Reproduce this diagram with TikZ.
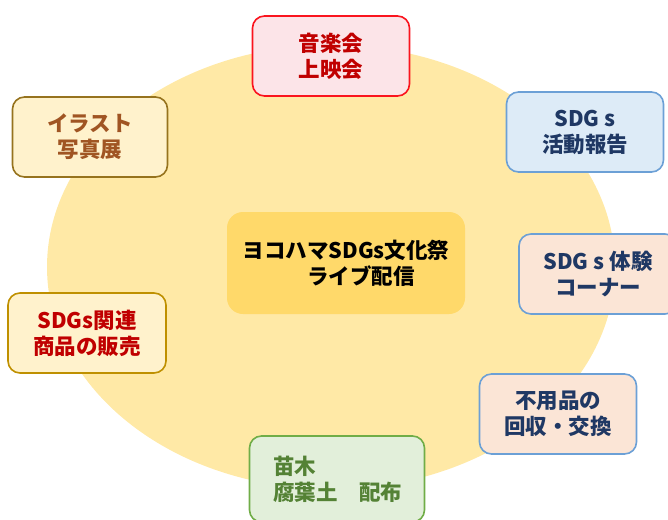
\documentclass[tikz,border=0pt]{standalone}
\usepackage{fontspec}
\setmainfont{Noto Sans CJK JP}
\usetikzlibrary{positioning}
\definecolor{bgyellow}{RGB}{255,233,166}
\definecolor{hubyellow}{RGB}{255,217,106}
\definecolor{pinkfill}{RGB}{252,228,232}
\definecolor{redline}{RGB}{250,20,30}
\definecolor{darkred}{RGB}{192,0,0}
\definecolor{bluefill}{RGB}{221,235,247}
\definecolor{blueline}{RGB}{108,160,214}
\definecolor{navytext}{RGB}{31,56,100}
\definecolor{creamfill}{RGB}{255,242,204}
\definecolor{brownline}{RGB}{150,115,30}
\definecolor{browntext}{RGB}{160,85,35}
\definecolor{goldline}{RGB}{191,144,0}
\definecolor{peachfill}{RGB}{251,229,214}
\definecolor{greenfill}{RGB}{226,239,218}
\definecolor{greenline}{RGB}{112,173,71}
\definecolor{greentext}{RGB}{84,130,53}

\begin{document}
\begin{tikzpicture}[x=1pt, y=-1pt,
    eventbox/.style={draw, line width=1.6pt, rounded corners=12pt,
        minimum width=157pt, minimum height=80pt, align=center,
        font=\bfseries\fontsize{21.5}{26}\selectfont},
    hubbox/.style={fill=hubyellow, rounded corners=16pt,
        minimum width=238pt, minimum height=102pt, align=left,
        font=\bfseries\fontsize{21.5}{26}\selectfont}]
    \useasboundingbox (0,0) rectangle (668,519);
    \clip (0,0) rectangle (668,519);

    % backdrop
    \fill[bgyellow] (331,267) ellipse [x radius=284, y radius=222];

    % centre
    \node[hubbox] (live) at (346,263) {ヨコハマSDGs文化祭\\\hspace*{3em}ライブ配信};

    % events round the centre
    \node[eventbox, fill=pinkfill, draw=redline, text=darkred] (concert) at (331,56) {音楽会\\上映会};
    \node[eventbox, fill=bluefill, draw=blueline, text=navytext] (report) at (585,132) {SDG s\\活動報告};
    \node[eventbox, fill=creamfill, draw=brownline, text=browntext, minimum width=155pt] (art) at (90,137) {イラスト\\写真展};
    \node[eventbox, fill=peachfill, draw=blueline, text=navytext, minimum width=158pt] (trial) at (598,274) {SDG s 体験\\コーナー};
    \node[eventbox, fill=creamfill, draw=goldline, text=darkred, minimum width=158pt] (goods) at (87,333) {SDGs関連\\商品の販売};
    \node[eventbox, fill=peachfill, draw=blueline, text=navytext] (reuse) at (558,414) {不用品の\\回収・交換};
    \node[eventbox, fill=greenfill, draw=greenline, text=greentext, align=left,
          minimum width=175pt, minimum height=86pt, text width=128pt] (plants) at (337,479) {苗木\\腐葉土　配布};
\end{tikzpicture}
\end{document}
